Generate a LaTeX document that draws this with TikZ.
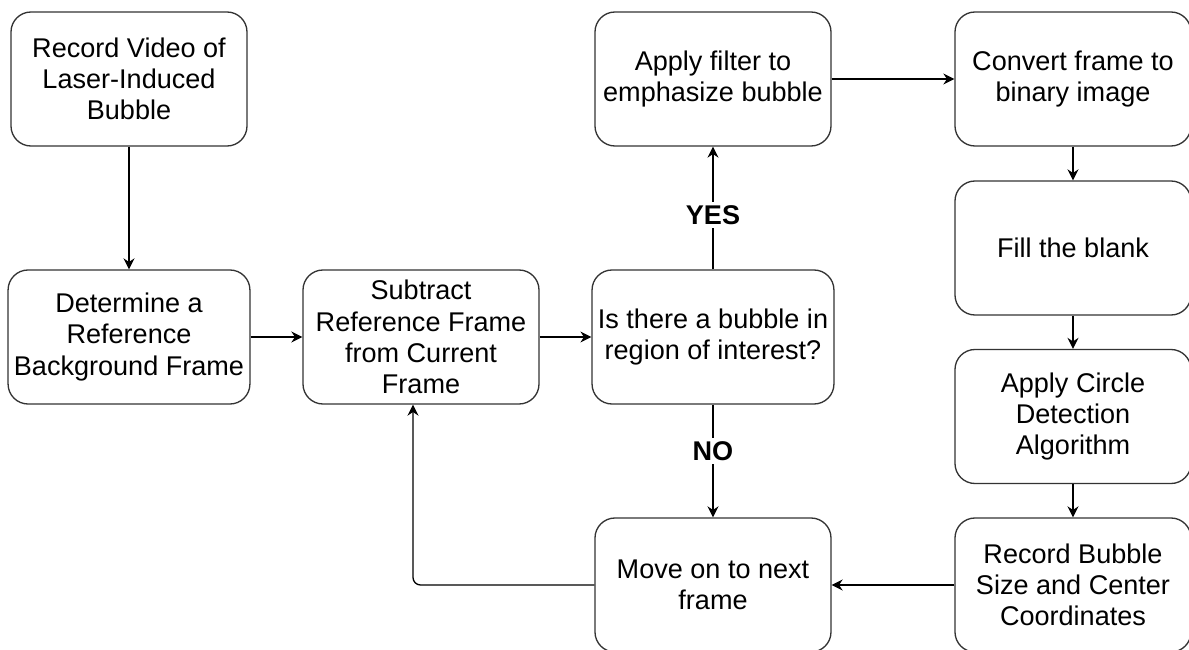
\documentclass[tikz,border=0pt]{standalone}
\usepackage{fontspec}
\setmainfont{Liberation Sans}
\usepackage{tikz}
\usetikzlibrary{arrows.meta,positioning}
\tikzset{
  stepbox/.style={rectangle, rounded corners=0.4cm, draw=black!80, line width=0.75pt, fill=white,
    minimum width=4.72cm, minimum height=2.68cm, align=center,
    font=\fontsize{15.4}{17.8}\selectfont},
  flow/.style={-{Stealth[length=2.2mm,width=2.2mm]}, line width=0.75pt, black},
  answer/.style={fill=white, inner sep=2pt, font=\fontsize{15.4}{17.8}\selectfont\bfseries}
}
\begin{document}
\begin{tikzpicture}
  \useasboundingbox (0,0) rectangle (23.78,-13);
  \clip (0,0) rectangle (23.78,-13);
  % left column and main row
  \node[stepbox] (rec) at (2.58,-1.58) {Record Video of\\Laser-Induced\\Bubble};
  \node[stepbox] (ref) at (2.58,-6.74) {Determine a\\Reference\\Background Frame};
  \node[stepbox] (sub) at (8.42,-6.74) {Subtract\\Reference Frame\\from Current\\Frame};
  \node[stepbox] (ask) at (14.26,-6.74) {Is there a bubble in\\region of interest?};
  \node[stepbox] (filt) at (14.26,-1.58) {Apply filter to\\emphasize bubble};
  \node[stepbox] (next) at (14.26,-11.70) {Move on to next\\frame};
  % right column
  \node[stepbox] (bin) at (21.46,-1.58) {Convert frame to\\binary image};
  \node[stepbox] (fill) at (21.46,-4.96) {Fill the blank};
  \node[stepbox] (circ) at (21.46,-8.33) {Apply Circle\\Detection\\Algorithm};
  \node[stepbox] (size) at (21.46,-11.70) {Record Bubble\\Size and Center\\Coordinates};

  \draw[flow] (rec)--(ref);
  \draw[flow] (ref)--(sub);
  \draw[flow] (sub)--(ask);
  \draw[flow] (ask)--(filt) node[answer,pos=0.44] {YES};
  \draw[flow] (ask)--(next) node[answer,pos=0.41] {NO};
  \draw[flow] (filt)--(bin);
  \draw[flow] (bin)--(fill);
  \draw[flow] (fill)--(circ);
  \draw[flow] (circ)--(size);
  \draw[flow] (size)--(next);
  \draw[flow, rounded corners=0.15cm] (next.west) -| ([xshift=-0.16cm]sub.south);
\end{tikzpicture}
\end{document}
